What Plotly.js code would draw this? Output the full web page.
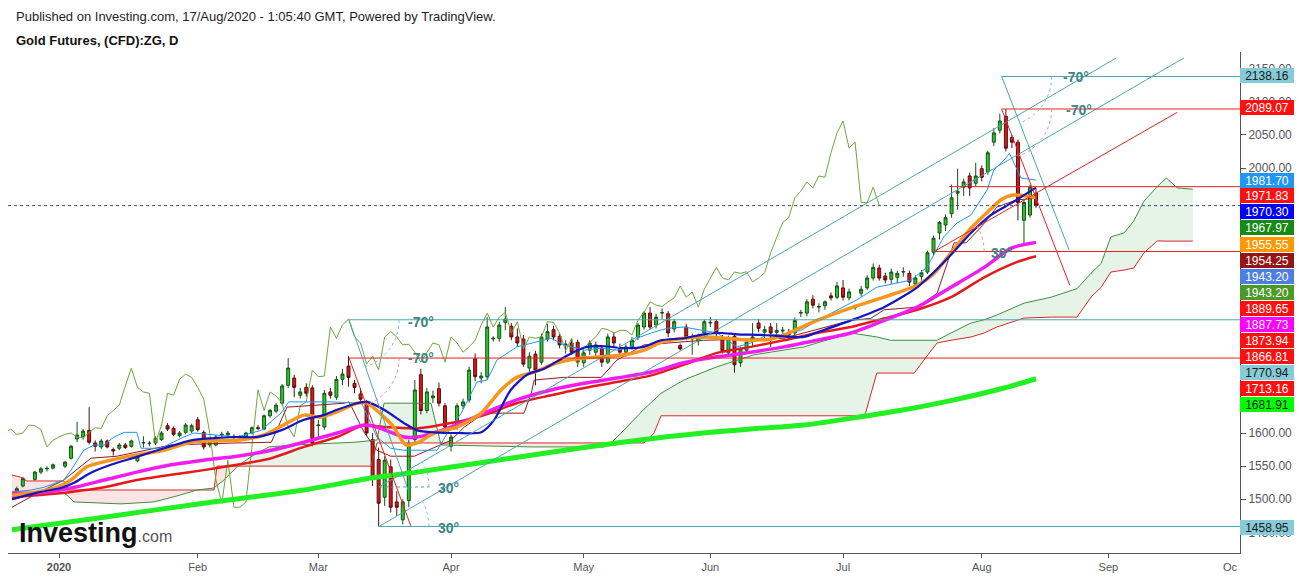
<!DOCTYPE html>
<html>
<head>
<meta charset="utf-8">
<script src="https://cdn.plot.ly/plotly-3.0.1.min.js"></script>
<style>
html,body{margin:0;padding:0;background:#ffffff;}
#chart{width:1299px;height:580px;}
</style>
</head>
<body>
<div id="chart"></div>
<script>
// ================= DATA =================
// bar index: 0 = 1 Jan 2020 (one slot per weekday); first candle slot = 23 Dec 2019
const firstBar = -7;
const monthTickIdx = [0, 23, 43, 65, 87, 108, 130, 153, 174];
const monthTickText = ['<b>2020</b>', 'Feb', 'Mar', 'Apr', 'May', 'Jun', 'Jul', 'Aug', 'Sep'];

const openP = [
1512,1520,null,1530,1541,1546,1547,null,1550,1562,
1591,1594,1604,1585,1579,1588,1575,1577,1582,1580,
1558,1585,1584,1585,1590,1611,1607,1596,1601,1603,
1620,1601,1582,1582,1597,1597,1595,1594,1594,1600,
1608,1606,1626,1633,1645,1672,1683,1657,1669,1668,
1611,1609,1662,1654,1681,1701,1675,1659,1645,1590,
1560,1503,1549,1496,1469,1498,1590,1688,1634,1653,
1667,1641,1580,1609,1641,1650,1712,1683,1685,1742,
1743,1767,1761,1745,1742,1698,1719,1707,1742,1756,
1746,1733,1736,1737,1706,1725,1722,1728,1707,1745,
1728,1722,1730,1745,1760,1781,1763,1781,1780,1757,
1732,1760,1742,1739,1751,1766,1768,1743,1721,1746,
1706,1725,1742,1766,1752,1760,1752,1754,1752,1751,
1781,1781,1802,1790,1792,1807,1805,1819,1804,1789,
1811,1819,1834,1849,1837,1832,1835,1843,1841,1825,
1836,1843,1873,1902,1914,1931,1962,1971,1988,1977,
1999,1994,2039,2057,2078,2046,2039,1921,1929,1962];
const highP = [
1519,1533,null,1543,1549,1550,1554,null,1558,1582,
1617,1606,1639,1589,1591,1590,1578,1585,1585,1590,
1566,1595,1588,1595,1603,1615,1610,1603,1615,1614,
1624,1604,1592,1597,1602,1603,1598,1597,1602,1610,
1612,1628,1636,1645,1674,1713,1688,1668,1675,1672,
1620,1665,1668,1686,1697,1716,1680,1668,1650,1600,
1578,1565,1560,1512,1500,1590,1680,1697,1668,1664,
1676,1645,1598,1645,1652,1700,1720,1692,1775,1746,
1768,1790,1766,1758,1748,1722,1724,1750,1765,1762,
1750,1740,1742,1741,1725,1740,1738,1732,1750,1752,
1735,1734,1745,1766,1784,1790,1780,1788,1784,1772,
1735,1765,1750,1750,1772,1775,1772,1748,1747,1750,
1730,1742,1766,1772,1762,1766,1766,1760,1757,1774,
1786,1802,1808,1796,1800,1812,1828,1831,1818,1792,
1822,1838,1856,1854,1842,1848,1845,1850,1845,1838,
1846,1875,1898,1920,1930,1975,1999,1984,1993,2008,
2004,2026,2060,2082,2089.07,2050,2043,1952,1975,1968];
const lowP = [
1508,1518,null,1528,1538,1542,1545,null,1547,1560,
1586,1590,1583,1572,1576,1577,1566,1574,1576,1578,
1556,1578,1580,1582,1588,1603,1595,1593,1598,1600,
1602,1575,1578,1580,1594,1595,1590,1590,1592,1598,
1604,1604,1623,1630,1642,1668,1654,1652,1655,1580,
1590,1605,1652,1650,1672,1670,1660,1645,1595,1520,
1459,1490,1480,1475,1462,1488,1585,1628,1630,1645,
1640,1600,1572,1605,1636,1646,1678,1675,1680,1738,
1738,1755,1740,1730,1700,1692,1672,1703,1738,1740,
1728,1720,1718,1700,1700,1718,1715,1700,1704,1730,
1718,1715,1726,1740,1756,1756,1758,1772,1745,1752,
1725,1740,1718,1732,1746,1760,1745,1720,1716,1691,
1700,1720,1730,1752,1740,1730,1742,1748,1740,1745,
1775,1776,1788,1782,1786,1800,1802,1800,1800,1786,
1806,1816,1830,1830,1826,1825,1826,1836,1822,1822,
1830,1840,1868,1892,1905,1925,1937,1958,1958,1972,
1980,1990,2033,2052,2025,2030,1921,1884,1925,1940];
const closeP = [
1516,1531,null,1541,1546,1546.5,1552,null,1556,1580,
1597,1603,1586,1580,1588,1579,1573,1582,1578,1588,
1564,1585.5,1584.5,1592,1600,1606,1598,1600,1612,1611,
1605,1579,1589,1594,1598,1600,1594,1593,1600,1608,
1607,1626,1634,1642,1671,1698,1669,1662,1660,1585,
1612,1660,1657,1681,1689,1684,1669,1651,1600,1530,
1494,1559,1488,1488,1496,1584,1665,1634,1662,1656,
1645,1609,1594,1641,1647,1695,1685,1686,1760,1743,
1763,1772,1745,1736,1704,1716,1695,1745,1753,1745,
1733,1734,1722,1707,1721,1736,1733,1707,1745,1736,
1722,1730,1740,1763,1781,1760,1775,1782,1751,1768,
1727,1745,1743,1745,1768,1767,1751,1724,1743,1703,
1727,1737,1745,1758,1756,1751,1755,1755,1748,1770,
1782,1798,1793,1791,1798,1804,1822,1805,1813,1790,
1817,1834,1850,1834,1831,1843,1841,1843.5,1828,1834,
1842,1872,1894,1918,1925,1955,1965,1979,1970,1988,
1986,2023,2053,2071,2030,2039,1948,1948,1971,1943.2];

// moving averages (at sample bars)
const blueIdx = [-7.8,-3.6,0.3,2.5,5.3,8.6,12.9,17.4,21.9,25.2,29.5,32.8,36.8,40.6,43.9,46.1,49.4,51.1,53.9,57.2,59.4,62.2,66.0,70.0,72.1,74.9,77.6,80.4,83.7,87.1,90.4,93.7,97.0,99.8,103.6,106.9,109.8,112.4,116.4,120.2,123.5,125.7,131.3,136.8,142.3,145.1,147.9,151.2,154.5,157.9,160.0,162];
const blueVal = [1500,1510,1517,1525,1540,1552,1564,1577,1589,1592,1594,1594,1604,1620,1627,1635,1645,1647,1635,1615,1604,1601,1600,1601,1619,1665,1688,1697,1714,1729,1731,1728,1730,1740,1743,1749,1751,1749,1748,1746,1745,1752,1770,1790,1820,1843,1869,1902,1929,1947,1959,1970.3];
const orangeIdx = [-7.8,-3.6,-0.3,2.0,4.6,8.6,12.9,17.4,21.9,25.2,29.5,34.0,37.8,40.6,43.4,46.1,49.4,51.1,53.9,55.5,57.5,59.4,62.2,66.0,70.0,73.3,75.9,78.8,82.6,86.6,89.9,93.7,97.0,99.8,103.6,106.9,110.8,114.7,118.1,120.2,125.7,131.3,136.8,142.3,145.1,147.9,151.2,153.9,156.2,157.9,159.5,162];
const orangeVal = [1506,1511,1518,1529,1549,1559,1567,1574,1586,1588,1589,1597,1615,1627,1624,1632,1645,1645,1624,1609,1582,1585,1600,1609,1630,1665,1684,1692,1706,1713,1715,1718,1725,1737,1743,1745,1743,1740,1742,1748,1770,1789,1805,1823,1841,1872,1909,1933,1952,1959,1959,1955.55];
const magentaIdx = [-7.8,-3.6,2.0,7.5,12.9,18.6,24,29.5,35.2,40.6,46.1,50.6,52.7,57.2,59.4,65.0,70.5,75.9,81.6,87.1,92.5,98.2,103.6,109.1,114.7,120.2,125.7,131.3,136.8,142.3,147.9,153.4,157.9,162];
const magentaVal = [1509,1509.5,1517,1529,1541,1552,1559,1565,1574,1586,1600,1612,1609,1594,1594,1609,1630,1650,1665,1675,1683,1692,1706,1715,1722,1730,1740,1751,1770,1790,1820,1850,1879,1887.73];
const redIdx = [-7.8,-3.6,2.0,7.5,12.9,18.6,24,29.5,35.2,40.6,46.1,50.6,53.9,59.4,65.0,70.5,75.9,81.6,87.1,92.5,98.2,103.6,109.1,114.7,120.2,125.7,131.3,136.8,142.3,147.9,153.4,158.8,162];
const redVal = [1503,1506,1511,1518,1529,1537,1544,1552,1562,1579,1594,1612,1609,1607,1615,1627,1645,1657,1668,1677,1687,1703,1721,1730,1740,1751,1760,1773,1786,1805,1835,1858,1866.81];
const limeIdx = [-7.8,7.5,24,40.6,51.7,59.4,70.5,81.6,92.5,103.6,114.7,123.5,140.1,148.4,156.7,162];
const limeVal = [1454,1473,1494,1514,1532,1541,1556,1571,1585,1597,1606,1612,1635,1650,1668,1681.91];

// Ichimoku lines
const tenkanIdx = [-7.8,-4.6,-2.5,0.8,2.0,4.1,5.8,7.5,9.1,10.8,12.9,13.6,16.9,18.6,20.7,22.4,26.2,29.5,33.5,36.8,38.1,45.1,50.2,51.7,52.7,55.0,57.2,62.7,65.0,66.7,69.3,71.0,72.6,75.9,78.8,81.6,83.7,87.1,89.9,92.5,94.8,95.8,98.2,100.8,103.6,106.5,109.1,112.4,114.7,117.4,120.2,123.0,126.8,132.3,135.6,141.3,143.9,146.7,148.9,151.2,153.9,155.0,156.7,157.6,159.5,162];
const tenkanVal = [1511,1514,1518,1529,1544,1574,1582,1582,1594,1601,1601,1577,1577,1585,1594,1600,1597,1594,1604,1630,1647,1647,1645,1615,1594,1577,1574,1574,1609,1630,1677,1680,1710,1730,1737,1743,1733,1725,1728,1725,1730,1743,1751,1758,1760,1755,1751,1730,1736,1748,1748,1755,1775,1801,1820,1831,1850,1896,1917,1929,1967,1997,2012,2022,1985,1981.70];
const kijunIdx = [-7.8,-3.6,0.8,5.3,9.6,12.9,18.6,29.5,35.2,37.8,47.3,48.1,50.6,52.7,55.0,58.9,63.3,65.0,67.2,70.5,77.1,78.3,78.8,83.7,89.9,91.5,92.5,97.0,106.9,120.2,123.5,131.3,134.6,136.8,142.3,145.6,148.4,150.4,152.9,155.5,158.8,162];
const kijunVal = [1488,1509,1529,1562,1565,1571,1582,1585,1586,1639,1645,1647,1601,1574,1565,1565,1582,1589,1609,1630,1630,1660,1680,1684,1684,1700,1710,1733,1740,1743,1751,1770,1773,1786,1790,1811,1887,1887,1911,1941,1952,1954.25];
const cloudIdx = [-7.79,-5.8,-5.47,0.83,1.33,2.49,10.28,15.75,19.57,22.88,25.7,26.2,27.36,29.85,32.33,34.82,38.97,48.91,51.73,52.73,53.89,61.68,63.34,78.26,90.37,91.53,93.69,97.0,98.66,99.82,103.6,109.1,115.2,123.5,131.3,133.6,135.6,137.9,141.8,143.4,145.6,147.9,151.2,153.4,155.5,160.0,164.5,168.8,171.1,172.8,174.4,176.6,178.2,179.9,182.1,183.6,185.4,188];
const spanA = [1499,1504,1505,1509.5,1506,1496,1493,1496,1505,1514,1517,1521,1529,1552,1567,1579,1582,1586,1589,1589.4,1645,1645,1582,1579,1579,1585,1604.5,1636,1650,1660,1680,1700,1718,1730,1751,1748,1745,1740,1740,1740,1740,1751,1766,1771,1778,1796,1805,1818,1841,1856,1896,1902,1920,1950,1972,1985,1970,1967.97];
const spanB = [1536.6,1532,1527.6,1527.6,1514,1514,1514,1514,1514,1514,1514,1550,1550,1550,1550,1550,1550,1550,1550,1585,1585,1585,1585,1585,1585,1585,1585,1585,1600,1626,1626,1626,1626,1626,1626,1626,1690.5,1690.5,1690.5,1710,1736,1740,1745,1751,1760,1773.5,1775,1775,1805,1820,1843,1846,1849,1872,1890,1889.65,1889.65,1889.65];

// price scale (only the tick labels that are not hidden behind value labels)
const yTickVals = [1450,1500,1550,1600,2000,2050,2100,2150];
const yTickText = ['1450.00','1500.00','1550.00','1600.00','2000.00','2050.00','2100.00','2150.00'];
const lastPrice = 1943.20;

// right-hand value labels
const priceLabelText = ['2138.16','2089.07','1981.70','1971.83','1970.30','1967.97','1955.55','1954.25','1943.20','1943.20','1889.65','1887.73','1873.94','1866.81','1770.94','1713.16','1681.91','1458.95'];
const priceLabelBg = ['#86ccd8','#ff1010','#2196f3','#ff1010','#0000ff','#168a16','#ff9800','#931515','#4d7fe2','#4a9a28','#ff1010','#ff00ff','#ff1010','#ff1010','#86ccd8','#ff1010','#00ff00','#86ccd8'];
const priceLabelFg = ['#1a1a1a','#ffffff','#ffffff','#ffffff','#ffffff','#ffffff','#ffffff','#ffffff','#ffffff','#ffffff','#ffffff','#ffffff','#ffffff','#ffffff','#1a1a1a','#ffffff','#1a1a1a','#1a1a1a'];

// drawn levels / angle tools
const tealLevels = [1770.94, 2138.16, 1458.95, 1518.5];
const redLevels = [1713.16, 2089.07, 1971.83, 1873.94];

// ================= LAYOUT CONSTANTS =================
const W = 1299, H = 580;
const M = {l: 8, r: 59, t: 52, b: 27};
const xRange = [-8.456, 195.82];
const yRange = [1418.9, 2175.1];
const labelRows = [75.5,108,180,195.5,211.5,227.5,244,260,276,292,308,324,340,356,372,388,404,527];
const FONT = 'Arial, "Liberation Sans", sans-serif';
const teal = '#4aa7ad', redD = '#e32222', angleText = '#3a8585';
const plotW = W - M.l - M.r, plotH = H - M.t - M.b;
const px = i => M.l + (i - xRange[0]) / (xRange[1] - xRange[0]) * plotW;
const py = v => M.t + (yRange[1] - v) / (yRange[1] - yRange[0]) * plotH;
const ix = p => xRange[0] + (p - M.l) / plotW * (xRange[1] - xRange[0]);
const iv = p => yRange[1] - (p - M.t) / plotH * (yRange[1] - yRange[0]);

// ================= TRACES =================
const cx = [], co = [], ch = [], cl = [], cc = [];
openP.forEach((o, i) => {
  if (o === null) return;
  cx.push(firstBar + i); co.push(o); ch.push(highP[i]); cl.push(lowP[i]); cc.push(closeP[i]);
});
const chikouShift = 26;
const chikX = cx.map(v => v - chikouShift);

function line(x, y, color, width, shape) {
  return {type: 'scatter', mode: 'lines', x: x, y: y, hoverinfo: 'skip',
    line: {color: color, width: width, shape: shape || 'linear', smoothing: 0.7}};
}

const traces = [
  {type: 'candlestick', x: cx, open: co, high: ch, low: cl, close: cc, hoverinfo: 'skip',
    whiskerwidth: 0,
    increasing: {fillcolor: '#22cc22', line: {color: '#1b4d1b', width: 1}},
    decreasing: {fillcolor: '#e01414', line: {color: '#4d1010', width: 1}}},
  line(cloudIdx, spanB, '#d42a2a', 1),
  line(cloudIdx, spanA, '#3f8f3f', 1),
  line(chikX, cc, '#6aa83c', 1),
  line(kijunIdx, kijunVal, '#8e1c1c', 1),
  line(tenkanIdx, tenkanVal, '#2196f3', 1),
  line(limeIdx, limeVal, '#22f022', 5, 'spline'),
  line(redIdx, redVal, '#e41a1a', 2.5, 'spline'),
  line(magentaIdx, magentaVal, '#f01cf0', 3.5, 'spline'),
  line(orangeIdx, orangeVal, '#f7961c', 3.5, 'spline'),
  line(blueIdx, blueVal, '#1414c4', 2.2, 'spline')
];

// ================= CLOUD FILL (shapes below traces) =================
function cloudPaths(xs, a, b) {
  let g = '', p = '';
  const pt = (x, y) => x + ',' + y;
  for (let k = 0; k < xs.length - 1; k++) {
    const x0 = xs[k], x1 = xs[k + 1], a0 = a[k], a1 = a[k + 1], b0 = b[k], b1 = b[k + 1];
    const d0 = a0 - b0, d1 = a1 - b1;
    if (d0 * d1 >= 0) {
      const poly = 'M' + pt(x0, a0) + 'L' + pt(x1, a1) + 'L' + pt(x1, b1) + 'L' + pt(x0, b0) + 'Z';
      if (d0 + d1 > 0) g += poly; else if (d0 + d1 < 0) p += poly;
    } else {
      const t = d0 / (d0 - d1), xc = x0 + t * (x1 - x0), yc = a0 + t * (a1 - a0);
      const t1 = 'M' + pt(x0, a0) + 'L' + pt(xc, yc) + 'L' + pt(x0, b0) + 'Z';
      const t2 = 'M' + pt(xc, yc) + 'L' + pt(x1, a1) + 'L' + pt(x1, b1) + 'Z';
      if (d0 > 0) { g += t1; p += t2; } else { p += t1; g += t2; }
    }
  }
  return {g, p};
}
const cp = cloudPaths(cloudIdx, spanA, spanB);
const shapes = [
  {type: 'path', xref: 'x', yref: 'y', path: cp.g, fillcolor: '#e6f3e7', line: {width: 0}, layer: 'below'},
  {type: 'path', xref: 'x', yref: 'y', path: cp.p, fillcolor: '#fbe4e4', line: {width: 0}, layer: 'below'}
];

// drawings
function seg(x0, y0, x1, y1, color, dash) {
  shapes.push({type: 'line', xref: 'x', yref: 'y', x0: x0, y0: y0, x1: x1, y1: y1,
    line: {color: color, width: 1, dash: dash || 'solid'}});
}
// dotted angle arc of an angle tool (radius in screen pixels, deg < 0 = downward)
function arc(i0, v0, deg, color) {
  const r = 50, cxp = px(i0), cyp = py(v0);
  let d = '';
  for (let k = 0; k <= 16; k++) {
    const a = deg * k / 16 * Math.PI / 180;
    d += (k ? 'L' : 'M') + ix(cxp + r * Math.cos(a)) + ',' + iv(cyp - r * Math.sin(a));
  }
  shapes.push({type: 'path', xref: 'x', yref: 'y', path: d, line: {color: color, width: 1, dash: 'dot'}});
}
const xEnd = 197;
// channel (30 deg) lines
seg(53.06, tealLevels[2], 186.5, 2166, teal);
seg(53.06, tealLevels[3], 175.3, 2166, teal);
seg(53.06, tealLevels[3], 61.4, tealLevels[3], teal, 'dot');
arc(53.06, tealLevels[2], 30, '#7cc4cc');
arc(53.06, tealLevels[3], 30, '#7cc4cc');
// -70 deg angle tools in March
seg(48.1, tealLevels[0], xEnd, tealLevels[0], teal);
seg(48.1, tealLevels[0], 58.0, 1511, teal);
seg(48.1, redLevels[0], xEnd, redLevels[0], redD);
seg(48.1, redLevels[0], 58.4, 1458, redD);
arc(48.1, tealLevels[0], -70, '#7cc4cc');
arc(48.1, redLevels[0], -70, '#f09090');
// -70 deg angle tools at the August top
seg(156.3, tealLevels[1], xEnd, tealLevels[1], teal);
seg(156.3, tealLevels[1], 167.5, 1876, teal);
seg(156.3, redLevels[1], xEnd, redLevels[1], redD);
seg(156.3, redLevels[1], 167.6, 1823, redD);
arc(156.3, tealLevels[1], -70, '#7cc4cc');
arc(156.3, redLevels[1], -70, '#f09090');
// horizontal levels and red 30 deg tool
seg(147.6, redLevels[2], xEnd, redLevels[2], redD);
seg(145.1, redLevels[3], xEnd, redLevels[3], redD);
seg(145.1, redLevels[3], 185.4, 2084, redD);
arc(145.1, redLevels[3], 30, '#f09090');
seg(53.06, tealLevels[2], xEnd, tealLevels[2], teal);
// last price dotted line
shapes.push({type: 'line', xref: 'paper', yref: 'y', x0: 0, x1: 1, y0: lastPrice, y1: lastPrice,
  line: {color: '#3a5078', width: 1, dash: 'dot'}});

// ================= ANNOTATIONS =================
const ann = [];
const angleLabels = [
  ['-70°', 166.1, 2137], ['-70°', 166.6, 2087], ['-70°', 57.5, 1767.5], ['-70°', 57.5, 1713],
  ['30°', 62.5, 1517], ['30°', 62.5, 1456.6], ['30°', 154.2, 1871.6]
];
angleLabels.forEach(a => ann.push({xref: 'x', yref: 'y', x: a[1], y: a[2], text: '<b>' + a[0] + '</b>',
  showarrow: false, xanchor: 'left', yanchor: 'middle', font: {family: FONT, size: 14, color: angleText}}));

priceLabelText.forEach((t, i) => ann.push({
  xref: 'paper', yref: 'paper', x: 1, y: (H - M.b - labelRows[i]) / plotH,
  xanchor: 'left', yanchor: 'middle', showarrow: false, text: t,
  width: 52, height: 13, borderpad: 1, borderwidth: 0, align: 'center', bgcolor: priceLabelBg[i],
  font: {family: FONT, size: 12, color: priceLabelFg[i]}
}));

ann.push({xref: 'paper', yref: 'paper', x: (14 - M.l) / plotW, y: (H - M.b - 17) / plotH,
  xanchor: 'left', yanchor: 'middle', showarrow: false,
  text: 'Published on Investing.com, 17/Aug/2020 - 1:05:40 GMT, Powered by TradingView.',
  font: {family: FONT, size: 13, color: '#1e1e1e'}});
ann.push({xref: 'paper', yref: 'paper', x: (14 - M.l) / plotW, y: (H - M.b - 40) / plotH,
  xanchor: 'left', yanchor: 'middle', showarrow: false,
  text: '<b>Gold Futures, (CFD):ZG, D</b>',
  font: {family: FONT, size: 13, color: '#111111'}});
ann.push({xref: 'paper', yref: 'paper', x: (17 - M.l) / plotW, y: (H - M.b - 533) / plotH,
  xanchor: 'left', yanchor: 'middle', showarrow: false,
  text: '<b>Investing</b><span style="font-size:16px;color:#555555">.com</span>',
  font: {family: FONT, size: 27, color: '#111111'}});
ann.push({xref: 'paper', yref: 'paper', x: 1, y: -14 / plotH, xanchor: 'right', yanchor: 'middle',
  showarrow: false, text: 'Oc', font: {family: FONT, size: 11, color: '#555555'}});

// ================= LAYOUT =================
const layout = {
  width: W, height: H, margin: M, showlegend: false,
  paper_bgcolor: '#ffffff', plot_bgcolor: '#ffffff',
  xaxis: {range: xRange, tickvals: monthTickIdx, ticktext: monthTickText,
    ticks: 'outside', ticklen: 4, tickcolor: '#555555', showline: true, linecolor: '#555555', linewidth: 1,
    showgrid: false, zeroline: false, rangeslider: {visible: false},
    tickfont: {family: FONT, size: 11, color: '#555555'}},
  yaxis: {range: yRange, side: 'right', tickvals: yTickVals, ticktext: yTickText,
    ticks: 'outside', ticklen: 5, tickcolor: '#555555', showline: true, linecolor: '#555555', linewidth: 1,
    showgrid: false, zeroline: false, tickfont: {family: FONT, size: 12, color: '#555555'}},
  shapes: shapes, annotations: ann
};

Plotly.newPlot('chart', traces, layout, {displayModeBar: false, staticPlot: true});
</script>
</body>
</html>
